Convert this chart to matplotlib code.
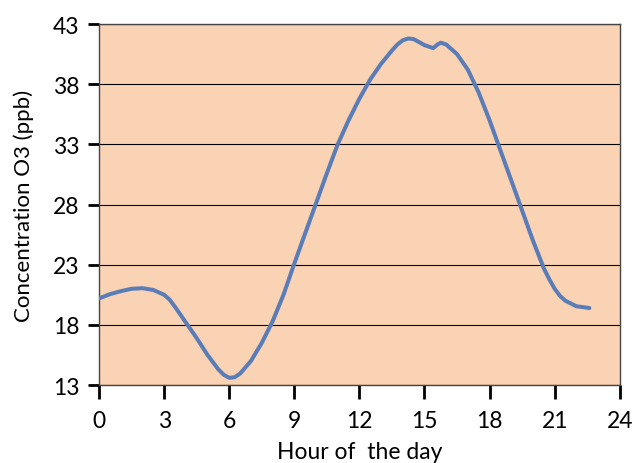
import matplotlib
matplotlib.use("Agg")
import matplotlib.pyplot as plt

plt.rcParams['font.family'] = ['Lato', 'DejaVu Sans']

# hour of the day and ozone concentration
hours = [0, 0.5, 1, 1.5, 2, 2.5, 3, 3.25, 3.5, 4, 4.5, 5, 5.5, 5.75, 6, 6.25,
         6.5, 7, 7.5, 8, 8.5, 9, 9.5, 10, 10.5, 11, 11.5, 12, 12.5, 13, 13.5,
         13.75, 14, 14.25, 14.5, 14.75, 15, 15.4, 15.6, 15.75, 16, 16.5, 17,
         17.5, 18, 18.5, 19, 19.5, 20, 20.5, 20.75, 21, 21.25, 21.5, 22, 22.6]
o3 = [20.2, 20.55, 20.8, 21.0, 21.05, 20.9, 20.5, 20.1, 19.5, 18.2, 16.9, 15.5,
      14.3, 13.85, 13.6, 13.65, 13.95, 15.0, 16.5, 18.3, 20.5, 23.1, 25.6,
      28.1, 30.6, 33.0, 35.0, 36.8, 38.4, 39.7, 40.8, 41.3, 41.65, 41.8, 41.75,
      41.5, 41.25, 41.0, 41.3, 41.45, 41.3, 40.5, 39.2, 37.3, 35.0, 32.5, 30.0,
      27.5, 25.0, 22.7, 21.8, 21.0, 20.4, 20.0, 19.55, 19.4]

xticks = list(range(0, 25, 3))
yticks = list(range(13, 44, 5))

fig = plt.figure(figsize=(6.35, 4.64), dpi=100)
ax = fig.add_axes([0.156, 0.168, 0.82, 0.778])
ax.set_facecolor('#FAD3B4')

for y in yticks:
    ax.axhline(y, color='black', lw=0.8, zorder=1)

ax.plot(hours, o3, color='#5A7DB8', lw=2.9, solid_capstyle='round',
        solid_joinstyle='round', zorder=3)

ax.set_xlim(0, 24)
ax.set_ylim(13, 43)
ax.set_xticks(xticks)
ax.set_yticks(yticks)
ax.tick_params(axis='both', labelsize=16.5, width=2, direction='out',
               colors='black')
ax.tick_params(axis='x', length=10, pad=8)
ax.tick_params(axis='y', length=8, pad=6)
for s in ax.spines.values():
    s.set_color('#444444')
    s.set_linewidth(1)

ax.set_xlabel('Hour of  the day', fontsize=16.5, labelpad=7)
ax.set_ylabel('Concentration O3 (ppb)', fontsize=16, labelpad=14)

fig.savefig('out.png', dpi=100)
